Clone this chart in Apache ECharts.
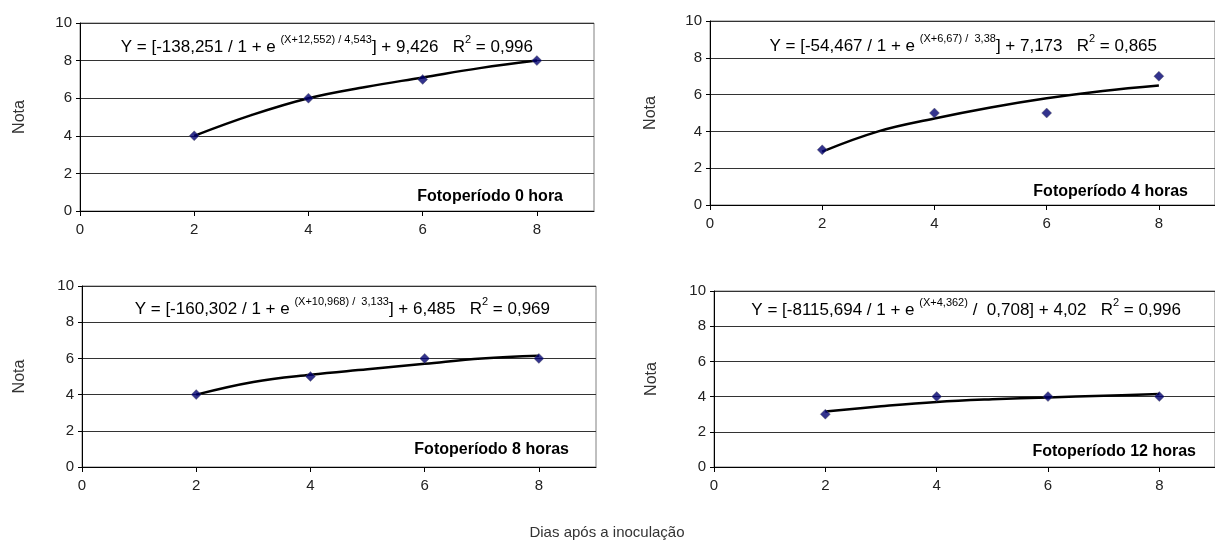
<!DOCTYPE html>
<html>
<head>
<meta charset="utf-8">
<script src="https://cdn.jsdelivr.net/npm/echarts@6/dist/echarts.min.js"></script>
<style>
  html, body { margin: 0; padding: 0; background: #fff; }
  #chart { width: 1215px; height: 549px; }
</style>
</head>
<body>
<div id="chart"></div>
<script>
// dias apos a inoculacao
var dias = [2, 4, 6, 8];
var diasCurva = [2, 3, 4, 5, 6, 7, 8];

// notas observadas
var nota0h = [4, 6, 7, 8];
var nota4h = [3, 5, 5, 7];
var nota8h = [4, 5, 6, 6];
var nota12h = [3, 4, 4, 4];

// curvas ajustadas
var curva0h = [4.0, 5.1, 6.0, 6.6, 7.1, 7.6, 8.0];
var curva4h = [2.9, 4.0, 4.7, 5.3, 5.8, 6.2, 6.5];
var curva8h = [4.0, 4.7, 5.1, 5.4, 5.7, 6.0, 6.15];
var curva12h = [3.15, 3.45, 3.7, 3.85, 3.95, 4.05, 4.15];

var titulos = ['Fotoperíodo 0 hora', 'Fotoperíodo 4 horas', 'Fotoperíodo 8 horas', 'Fotoperíodo 12 horas'];
// partes de cada equacao: coeficiente, expoente, resto, R2
var equacoes = [
  ['-138,251', '(X+12,552) / 4,543', '] + 9,426', '0,996'],
  ['-54,467', '(X+6,67) /  3,38', '] + 7,173', '0,865'],
  ['-160,302', '(X+10,968) /  3,133', '] + 6,485', '0,969'],
  ['-8115,694', '(X+4,362)', ' /  0,708] + 4,02', '0,996']
];

var fonte = 'Liberation Sans, Arial, sans-serif';
var pontos = [nota0h, nota4h, nota8h, nota12h];
var curvas = [curva0h, curva4h, curva8h, curva12h];

// posicao de cada painel
var paineis = [
  { left: 80, top: 23, width: 514, height: 188, eqX: 533, eqY: 45, fotoX: 563, fotoY: 197, gap: 52 },
  { left: 710, top: 21, width: 517, height: 184, eqX: 1157, eqY: 44, fotoX: 1188, fotoY: 192, gap: 51 },
  { left: 82, top: 286, width: 514, height: 181, eqX: 550, eqY: 307, fotoX: 569, fotoY: 450, gap: 54 },
  { left: 714, top: 291, width: 517, height: 176, eqX: 1181, eqY: 308, fotoX: 1196, fotoY: 452, gap: 54 }
];

function pares(xs, ys) {
  return xs.map(function (x, i) { return [x, ys[i]]; });
}

var grid = [], xAxis = [], yAxis = [], series = [], graphic = [];

paineis.forEach(function (p, i) {
  grid.push({
    left: p.left, top: p.top, width: p.width, height: p.height,
    show: true, borderColor: '#808080', borderWidth: 1, backgroundColor: 'transparent'
  });
  xAxis.push({
    gridIndex: i, type: 'value', min: 0, max: 9, interval: 2,
    axisLine: { onZero: false, lineStyle: { color: '#000', width: 1 } },
    axisTick: { show: true, length: 5, lineStyle: { color: '#000' } },
    axisLabel: { showMaxLabel: false, color: '#222', fontSize: 15, fontFamily: fonte, margin: 11 },
    splitLine: { show: false }
  });
  yAxis.push({
    gridIndex: i, type: 'value', min: 0, max: 10, interval: 2,
    name: 'Nota', nameLocation: 'middle', nameGap: p.gap, nameRotate: 90,
    nameTextStyle: { color: '#333', fontSize: 16, fontFamily: fonte },
    axisLine: { show: true, onZero: false, lineStyle: { color: '#000', width: 1 } },
    axisTick: { show: true, length: 4, lineStyle: { color: '#000' } },
    axisLabel: { color: '#222', fontSize: 15, fontFamily: fonte, margin: 8 },
    splitLine: { show: true, lineStyle: { color: '#333', width: 1 } }
  });
  series.push({
    type: 'line', xAxisIndex: i, yAxisIndex: i,
    data: pares(diasCurva, curvas[i]), smooth: 0.4, showSymbol: false,
    lineStyle: { color: '#000', width: 2.5 }, silent: true, animation: false, z: 3
  });
  series.push({
    type: 'scatter', xAxisIndex: i, yAxisIndex: i,
    data: pares(dias, pontos[i]), symbol: 'diamond', symbolSize: 10,
    itemStyle: { color: '#000070', borderColor: '#666', borderWidth: 0.5 },
    animation: false, z: 4
  });

  var eq = equacoes[i];
  var txt = '{n|Y = [' + eq[0] + ' / 1 + e }{s|' + eq[1] + '}{n|' + eq[2] + '   R}{s|2}{n| = ' + eq[3] + '}';
  graphic.push({
    type: 'text', x: p.eqX, y: p.eqY,
    style: {
      text: txt, fill: '#000', font: '17px ' + fonte,
      textAlign: 'right', textVerticalAlign: 'middle',
      rich: {
        n: { fontSize: 17, fontFamily: fonte, lineHeight: 22, verticalAlign: 'bottom', fill: '#000' },
        s: { fontSize: 11, fontFamily: fonte, lineHeight: 22, verticalAlign: 'top', fill: '#000' }
      }
    }
  });
  graphic.push({
    type: 'text', x: p.fotoX, y: p.fotoY,
    style: {
      text: titulos[i], fill: '#000', font: 'bold 16px ' + fonte,
      textAlign: 'right', textVerticalAlign: 'middle'
    }
  });
});

graphic.push({
  type: 'text', x: 607, y: 533,
  style: {
    text: 'Dias após a inoculação', fill: '#333', font: '15px ' + fonte,
    textAlign: 'center', textVerticalAlign: 'middle'
  }
});

var chart = echarts.init(document.getElementById('chart'), null, { renderer: 'canvas' });
chart.setOption({
  animation: false,
  backgroundColor: '#fff',
  grid: grid,
  xAxis: xAxis,
  yAxis: yAxis,
  series: series,
  graphic: graphic
});
</script>
</body>
</html>
